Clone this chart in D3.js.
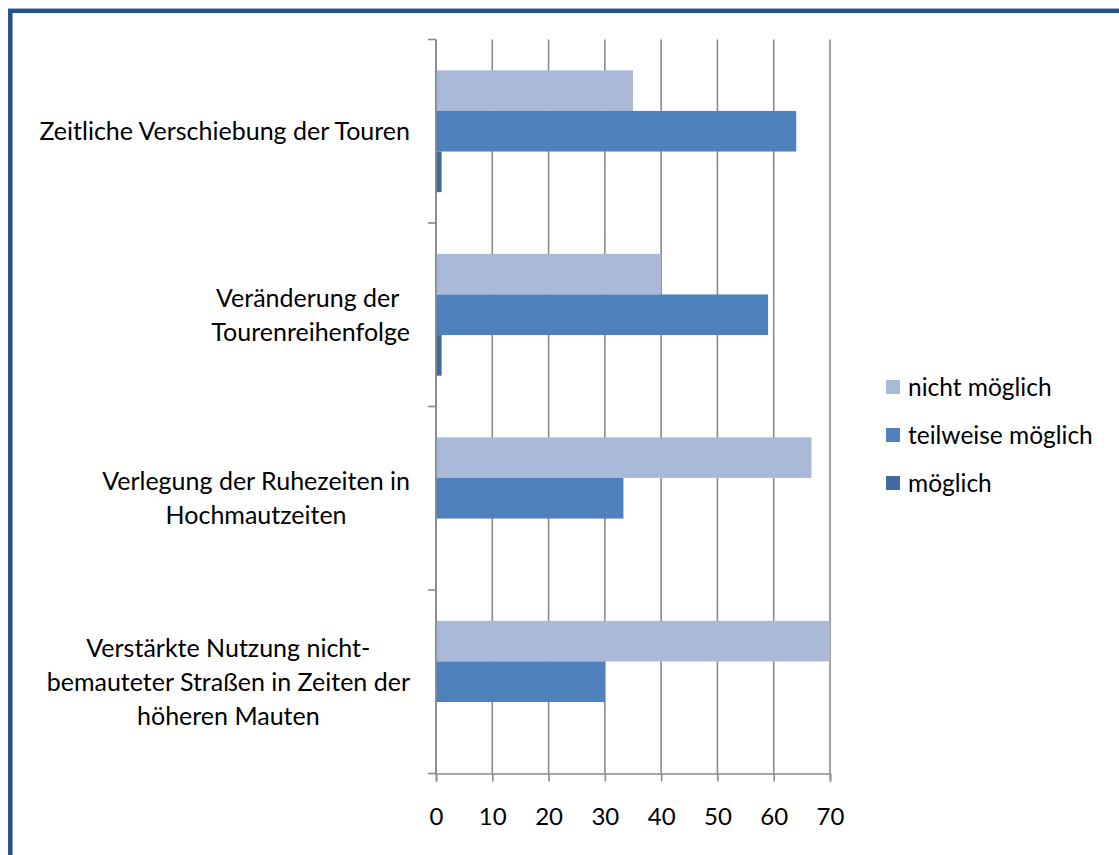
<!DOCTYPE html>
<html>
<head>
<meta charset="utf-8">
<script src="https://cdn.jsdelivr.net/npm/d3@7"></script>
<style>
  body { margin: 0; background: #fff; }
  text { font-family: Lato, "Open Sans", sans-serif; fill: #000; }
</style>
</head>
<body>
<div id="chart"></div>
<script>
/*chart data*/
var categories = [
  ["Zeitliche Verschiebung der Touren"],
  ["Veränderung der ", "Tourenreihenfolge"],
  ["Verlegung der Ruhezeiten in", "Hochmautzeiten"],
  ["Verstärkte Nutzung nicht-", "bemauteter Straßen in Zeiten der", "höheren Mauten"]
];
var seriesNames = ["nicht möglich", "teilweise möglich", "möglich"];
var nichtMoeglich = [35, 40, 66.7, 70];
var teilweiseMoeglich = [64, 59, 33.3, 30];
var moeglich = [1, 1, 0, 0];
var xTicks = [0, 10, 20, 30, 40, 50, 60, 70];

var seriesValues = [nichtMoeglich, teilweiseMoeglich, moeglich];
var colors = ["#AAB9D7", "#4F81BD", "#416A9E"];

/*svg container*/
var svgWidth = 1119;
var svgHeight = 855;

var svg = d3.select("#chart").append("svg")
  .attr("width", svgWidth)
  .attr("height", svgHeight);

/*outer frame, only top and left edges are visible*/
svg.append("rect")
  .attr("x", 10.3)
  .attr("y", 10.8)
  .attr("width", svgWidth + 20)
  .attr("height", svgHeight + 20)
  .attr("fill", "none")
  .attr("stroke", "#255088")
  .attr("stroke-width", 4.5);

/*plot area*/
var plot = { left: 436, right: 830, top: 39.5, bottom: 773.5 };

var xScale = d3.scaleLinear().domain([0, 70]).range([plot.left, plot.right]);
var yScale = d3.scaleBand()
  .domain(d3.range(categories.length))
  .range([plot.top, plot.bottom])
  .padding(0);
var yInner = d3.scaleBand()
  .domain(d3.range(seriesNames.length))
  .range([0, yScale.bandwidth()])
  .paddingInner(0)
  .paddingOuter(0.76);

/*vertical gridlines*/
svg.append("g")
  .selectAll("line")
  .data(xTicks)
  .enter()
  .append("line")
  .attr("x1", d => xScale(d))
  .attr("x2", d => xScale(d))
  .attr("y1", plot.top)
  .attr("y2", plot.bottom)
  .attr("stroke", "#8a8a8a")
  .attr("stroke-width", 1.6);

/*bars*/
var rows = [];
seriesValues.forEach(function(values, s) {
  values.forEach(function(v, c) {
    rows.push({ s: s, c: c, v: v });
  });
});

svg.append("g")
  .selectAll("rect")
  .data(rows.filter(d => d.v > 0))
  .enter()
  .append("rect")
  .attr("x", xScale(0))
  .attr("y", d => yScale(d.c) + yInner(d.s))
  .attr("width", d => xScale(d.v) - xScale(0))
  .attr("height", yInner.bandwidth())
  .attr("fill", d => colors[d.s]);

/*axes*/
var bottomAxis = d3.axisBottom(xScale)
  .tickValues(xTicks)
  .tickSize(8)
  .tickPadding(26.5)
  .tickFormat(d3.format("d"));

var gx = svg.append("g")
  .attr("transform", `translate(0,${plot.bottom})`)
  .call(bottomAxis);
gx.select(".domain").attr("stroke", "#8a8a8a").attr("stroke-width", 1.6);
gx.selectAll(".tick line").attr("stroke", "#8a8a8a").attr("stroke-width", 1.6);
gx.selectAll(".tick text")
  .style("font-family", "Lato, sans-serif")
  .style("font-size", "24px")
  .attr("fill", "#000");

/*left axis line with category boundary ticks*/
var yBounds = d3.range(categories.length + 1).map(i => plot.top + i * yScale.step());
svg.append("line")
  .attr("x1", plot.left).attr("x2", plot.left)
  .attr("y1", plot.top).attr("y2", plot.bottom)
  .attr("stroke", "#8a8a8a").attr("stroke-width", 1.6);
svg.append("g")
  .selectAll("line")
  .data(yBounds)
  .enter()
  .append("line")
  .attr("x1", plot.left - 8).attr("x2", plot.left)
  .attr("y1", d => d).attr("y2", d => d)
  .attr("stroke", "#8a8a8a").attr("stroke-width", 1.6);

/*category labels: lines centred as a block, block right-aligned*/
var lineHeight = 34;
var labelRight = 410;
categories.forEach(function(lines, c) {
  var cy = yScale(c) + yScale.bandwidth() / 2;
  var g = svg.append("g");
  var texts = g.selectAll("text")
    .data(lines)
    .enter()
    .append("text")
    .style("font-size", "25px")
    .style("white-space", "pre")
    .attr("text-anchor", "middle")
    .attr("dy", "0.35em")
    .attr("y", (d, i) => cy + (i - (lines.length - 1) / 2) * lineHeight)
    .text(d => d);
  var maxW = d3.max(texts.nodes(), n => n.getComputedTextLength());
  texts.attr("x", labelRight - maxW / 2);
});

/*legend*/
var legend = svg.append("g")
  .selectAll("g")
  .data(seriesNames)
  .enter()
  .append("g")
  .attr("transform", (d, i) => `translate(886,${387 + i * 48})`);

legend.append("rect")
  .attr("x", 0).attr("y", -7)
  .attr("width", 14).attr("height", 14)
  .attr("fill", (d, i) => colors[i]);

legend.append("text")
  .attr("x", 22)
  .attr("dy", "0.35em")
  .style("font-size", "24.5px")
  .text(d => d);
</script>
</body>
</html>
